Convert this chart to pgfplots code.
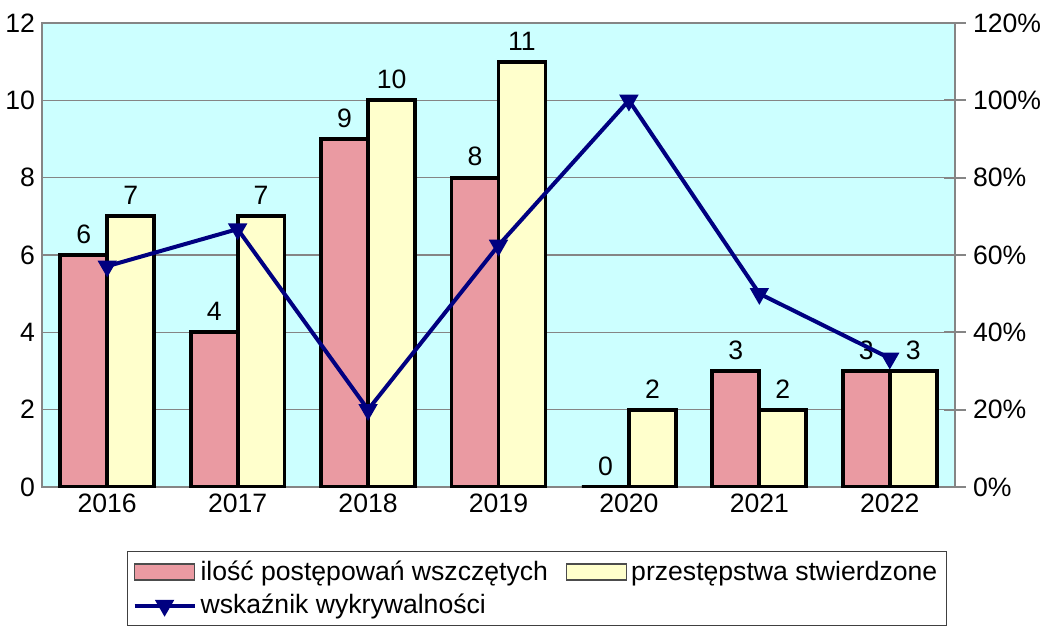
\documentclass[border=0pt]{standalone}
\usepackage{fontspec}
\setmainfont{Liberation Sans}
\usepackage{pgfplots}
\pgfplotsset{compat=1.18}
\definecolor{bgc}{HTML}{CCFFFF}
\definecolor{pinkb}{HTML}{EA9AA2}
\definecolor{yelb}{HTML}{FFFFCC}
\definecolor{navyc}{HTML}{000080}
\definecolor{gridc}{HTML}{858585}
\newcommand{\cf}{\fontsize{13.3}{16}\selectfont}
\pgfplotsset{
  linelegend/.style={legend image code/.code={\draw[mark repeat=2,mark phase=2,##1] plot coordinates {(0pt,0pt) (15pt,0pt) (30pt,0pt)};}},
  pinkleg/.style={legend image code/.code={\draw[fill=pinkb, draw=black!70, line width=0.6pt] (0pt,-4pt) rectangle (30pt,4pt);}},
  yelleg/.style={legend image code/.code={\draw[fill=yelb, draw=black!70, line width=0.6pt] (0pt,-4pt) rectangle (30pt,4pt);}},
}
\begin{document}
\begin{tikzpicture}
\pgfplotsset{
  every axis/.append style={scale only axis, width=456.5pt, height=232pt,
    xmin=-0.5, xmax=6.5, ymin=0, at={(0,0)}, anchor=south west,
    tick label style={font=\cf},
    /pgf/number format/assume math mode=true},
}
\begin{axis}[
  ymax=12, ytick={0,2,...,12},
  axis background/.style={fill=bgc},
  ymajorgrids, grid style={gridc, line width=0.8pt},
  axis line style={gridc, line width=1.3pt},
  xtick={0,...,6}, xticklabels={2016,2017,2018,2019,2020,2021,2022},
  major tick length=0pt,
  ybar, bar width=0.36,
  nodes near coords,
  every node near coord/.append style={black, font=\cf, yshift=1.5pt},
]
\addplot[fill=pinkb, draw=black, line width=1.9pt, bar shift=-0.18] coordinates {(0,6) (1,4) (2,9) (3,8) (4,0) (5,3) (6,3)};
\addplot[fill=yelb, draw=black, line width=1.9pt, bar shift=0.18] coordinates {(0,7) (1,7) (2,10) (3,11) (4,2) (5,2) (6,3)};
\end{axis}
\begin{axis}[
  axis y line*=right, axis x line=none,
  ymax=120, ytick={0,20,...,120},
  yticklabels={0\%,20\%,40\%,60\%,80\%,100\%,120\%},
  yticklabel style={xshift=0pt},
  ytick style={gridc, line width=1pt}, major tick length=11pt, tick align=center,
  axis line style={gridc, line width=1.3pt},
  legend style={at={(axis description cs:0.0931,-0.138)}, anchor=north west,
    draw=black!75, line width=0.6pt, font=\cf, inner sep=2.5pt, row sep=1.5pt,
    /tikz/every even column/.append style={column sep=7pt}},
  legend columns=2, legend cell align=left,
]
\addlegendimage{pinkleg}
\addlegendentry{ilość postępowań wszczętych}
\addlegendimage{yelleg}
\addlegendentry{przestępstwa stwierdzone}
\addplot[navyc, line width=2pt, mark=triangle*, mark size=3.6pt, mark options={rotate=180}, linelegend]
  coordinates {(0,57.1) (1,66.7) (2,20) (3,62.5) (4,100) (5,50) (6,33.3)};
\addlegendentry{wskaźnik wykrywalności}
\end{axis}
\pgfresetboundingbox
\useasboundingbox (-21pt,-70pt) rectangle (500.5pt,243.5pt);
\end{tikzpicture}
\end{document}
